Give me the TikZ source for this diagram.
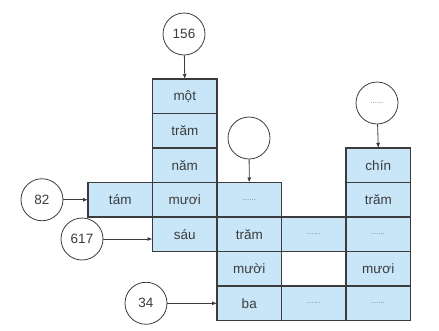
\documentclass[tikz,border=0pt]{standalone}
\usepackage{fontspec}
\setmainfont{Liberation Sans}
\usepackage{tikz}
\usetikzlibrary{arrows.meta}
\definecolor{cellblue}{RGB}{200,230,248}
\definecolor{inkgray}{RGB}{60,60,60}

\begin{document}
\begin{tikzpicture}[
    x=1pt, y=-1pt,
    font=\fontsize{13.5}{15}\selectfont,
    cell/.style={rectangle, draw=inkgray, line width=1.3pt, fill=cellblue, minimum width=64.5pt, minimum height=34.5pt, inner sep=0pt, outer sep=0pt, text=inkgray},
    num/.style={circle, draw=inkgray, line width=0.8pt, fill=white, minimum size=42pt, inner sep=0pt, text=inkgray},
    link/.style={-{Latex[length=5pt,width=4pt]}, line width=0.8pt, draw=inkgray}
]
\useasboundingbox (0,0) rectangle (439,330);

% column starting with 156
\node[cell] (Mot) at (184.75,96.25) {một};
\node[cell] (TramA) at (184.75,130.75) {trăm};
\node[cell] (Nam) at (184.75,165.25) {năm};
\node[cell] (MuoiA) at (184.75,199.75) {mươi};
\node[cell] (Sau) at (184.75,234.25) {sáu};
\node[cell] (Tam) at (120.25,199.75) {tám};

% middle column
\node[cell] (DotsA) at (249.25,199.75) {\footnotesize\color{gray}......};
\node[cell] (TramB) at (249.25,234.25) {trăm};
\node[cell] (Muoi) at (249.25,268.75) {mười};
\node[cell] (Ba) at (249.25,303.25) {ba};
\node[cell] (DotsB) at (313.75,234.25) {\footnotesize\color{gray}......};
\node[cell] (DotsC) at (313.75,303.25) {\footnotesize\color{gray}......};

% right column
\node[cell] (Chin) at (378.25,165.25) {chín};
\node[cell] (TramC) at (378.25,199.75) {trăm};
\node[cell] (DotsD) at (378.25,234.25) {\footnotesize\color{gray}......};
\node[cell] (MuoiB) at (378.25,268.75) {mươi};
\node[cell] (DotsE) at (378.25,303.25) {\footnotesize\color{gray}......};

% numbers
\node[num] (N156) at (184,34) {156};
\node[num] (NMid) at (249,138) {\color{gray!70}\tiny.\hspace{4pt}.};
\node[num] (NRight) at (377,103) {\footnotesize\color{gray}......};
\node[num] (N82) at (42,199.75) {82};
\node[num] (N617) at (82,239) {617};
\node[num] (N34) at (146,303.25) {34};

\draw[link] (N156) -- (Mot.north);
\draw[link] (NMid) -- (DotsA.north);
\draw[link] (NRight) -- (Chin.north);
\draw[link] (N82) -- (Tam.west);
\draw[link] (N617) -- (N617 -| Sau.west);
\draw[link] (N34) -- (Ba.west);
\end{tikzpicture}
\end{document}
